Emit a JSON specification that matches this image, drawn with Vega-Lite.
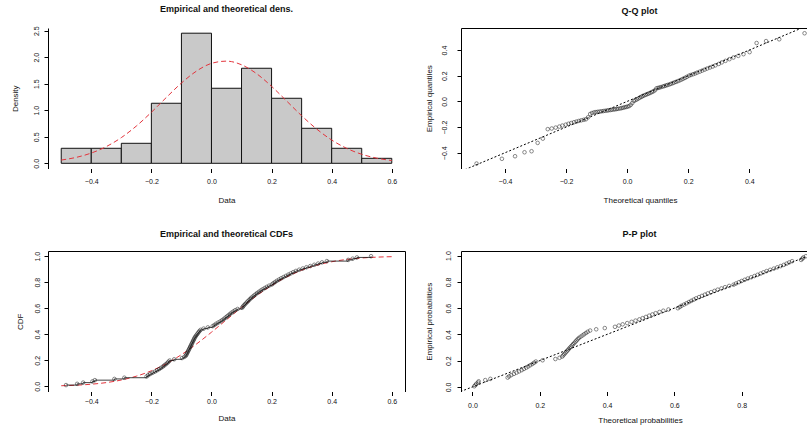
{
  "$schema": "https://vega.github.io/schema/vega-lite/v6.json",
  "padding": {"left": 11, "top": 4, "right": 0, "bottom": 0},
  "background": "white",
  "config": {
    "font": "Liberation Sans",
    "view": {"stroke": null},
    "axis": {"grid": false, "domainColor": "#000", "tickColor": "#000", "labelColor": "#111", "titleColor": "#111", "labelFontSize": 7, "titleFontSize": 8, "titleFontWeight": "normal", "tickSize": 4, "domainWidth": 1, "tickWidth": 1, "labelFont": "Liberation Sans", "titleFont": "Liberation Sans", "labelOverlap": false, "labelFlush": false},
    "axisX": {"domain": false},
    "axisY": {"labelAngle": -90, "labelAlign": "center", "labelBaseline": "bottom", "labelOverlap": false},
    "title": {"fontSize": 9, "fontWeight": "bold", "color": "#111", "offset": 12, "baseline": "bottom", "anchor": "middle", "font": "Liberation Sans"}
  },
  "datasets": {
    "hist": [
      {"lo": -0.5, "hi": -0.4, "d": 0.283}, {"lo": -0.4, "hi": -0.3, "d": 0.283}, {"lo": -0.3, "hi": -0.2, "d": 0.377},
      {"lo": -0.2, "hi": -0.1, "d": 1.132}, {"lo": -0.1, "hi": 0.0, "d": 2.453}, {"lo": 0.0, "hi": 0.1, "d": 1.415},
      {"lo": 0.1, "hi": 0.2, "d": 1.792}, {"lo": 0.2, "hi": 0.3, "d": 1.226}, {"lo": 0.3, "hi": 0.4, "d": 0.660},
      {"lo": 0.4, "hi": 0.5, "d": 0.283}, {"lo": 0.5, "hi": 0.6, "d": 0.094}
    ],
    "curve": [
      {"x": -0.5, "d": 0.0610, "F": 0.0043}, {"x": -0.45, "d": 0.1118, "F": 0.0085}, {"x": -0.4, "d": 0.1933, "F": 0.0160},
      {"x": -0.35, "d": 0.3151, "F": 0.0285}, {"x": -0.3, "d": 0.4845, "F": 0.0483}, {"x": -0.25, "d": 0.7027, "F": 0.0778},
      {"x": -0.2, "d": 0.9619, "F": 0.1192}, {"x": -0.15, "d": 1.2425, "F": 0.1744}, {"x": -0.1, "d": 1.5131, "F": 0.2432},
      {"x": -0.05, "d": 1.7383, "F": 0.3249}, {"x": 0.0, "d": 1.8842, "F": 0.4158}, {"x": 0.05, "d": 1.9264, "F": 0.5116},
      {"x": 0.1, "d": 1.8581, "F": 0.6066}, {"x": 0.15, "d": 1.6903, "F": 0.6957}, {"x": 0.2, "d": 1.4508, "F": 0.7745},
      {"x": 0.25, "d": 1.1748, "F": 0.8401}, {"x": 0.3, "d": 0.8971, "F": 0.8919}, {"x": 0.35, "d": 0.6464, "F": 0.9303},
      {"x": 0.4, "d": 0.4392, "F": 0.9573}, {"x": 0.45, "d": 0.2818, "F": 0.9751}, {"x": 0.5, "d": 0.1704, "F": 0.9862},
      {"x": 0.55, "d": 0.0972, "F": 0.9927}, {"x": 0.6, "d": 0.0523, "F": 0.9964}
    ],
    "diag": [{"v": -0.7}, {"v": 1.2}],
    "smp": [
      {"s": -0.484, "q": -0.493, "pe": 0.0094, "pp": 0.0047, "F": 0.0054},
      {"s": -0.447, "q": -0.410, "pe": 0.0189, "pp": 0.0142, "F": 0.0089},
      {"s": -0.427, "q": -0.367, "pe": 0.0283, "pp": 0.0236, "F": 0.0115},
      {"s": -0.396, "q": -0.336, "pe": 0.0377, "pp": 0.0330, "F": 0.0168},
      {"s": -0.388, "q": -0.313, "pe": 0.0472, "pp": 0.0425, "F": 0.0185},
      {"s": -0.323, "q": -0.293, "pe": 0.0566, "pp": 0.0519, "F": 0.0381},
      {"s": -0.290, "q": -0.276, "pe": 0.0660, "pp": 0.0613, "F": 0.0533},
      {"s": -0.216, "q": -0.260, "pe": 0.0755, "pp": 0.0708, "F": 0.1046},
      {"s": -0.211, "q": -0.247, "pe": 0.0849, "pp": 0.0802, "F": 0.1090},
      {"s": -0.204, "q": -0.234, "pe": 0.0943, "pp": 0.0896, "F": 0.1154},
      {"s": -0.196, "q": -0.222, "pe": 0.1038, "pp": 0.0991, "F": 0.1232},
      {"s": -0.188, "q": -0.212, "pe": 0.1132, "pp": 0.1085, "F": 0.1311},
      {"s": -0.181, "q": -0.201, "pe": 0.1226, "pp": 0.1179, "F": 0.1385},
      {"s": -0.174, "q": -0.192, "pe": 0.1321, "pp": 0.1274, "F": 0.1462},
      {"s": -0.168, "q": -0.183, "pe": 0.1415, "pp": 0.1368, "F": 0.1529},
      {"s": -0.162, "q": -0.174, "pe": 0.1509, "pp": 0.1462, "F": 0.1599},
      {"s": -0.157, "q": -0.166, "pe": 0.1604, "pp": 0.1557, "F": 0.1658},
      {"s": -0.152, "q": -0.158, "pe": 0.1698, "pp": 0.1651, "F": 0.1718},
      {"s": -0.147, "q": -0.150, "pe": 0.1792, "pp": 0.1745, "F": 0.1780},
      {"s": -0.143, "q": -0.142, "pe": 0.1887, "pp": 0.1840, "F": 0.1833},
      {"s": -0.139, "q": -0.135, "pe": 0.1981, "pp": 0.1934, "F": 0.1884},
      {"s": -0.124, "q": -0.128, "pe": 0.2075, "pp": 0.2028, "F": 0.2084},
      {"s": -0.098, "q": -0.121, "pe": 0.2170, "pp": 0.2123, "F": 0.2464},
      {"s": -0.090, "q": -0.115, "pe": 0.2264, "pp": 0.2217, "F": 0.2588},
      {"s": -0.085, "q": -0.108, "pe": 0.2358, "pp": 0.2311, "F": 0.2666},
      {"s": -0.083, "q": -0.102, "pe": 0.2453, "pp": 0.2406, "F": 0.2697},
      {"s": -0.081, "q": -0.096, "pe": 0.2547, "pp": 0.2500, "F": 0.2729},
      {"s": -0.079, "q": -0.090, "pe": 0.2642, "pp": 0.2594, "F": 0.2762},
      {"s": -0.077, "q": -0.084, "pe": 0.2736, "pp": 0.2689, "F": 0.2793},
      {"s": -0.075, "q": -0.078, "pe": 0.2830, "pp": 0.2783, "F": 0.2827},
      {"s": -0.073, "q": -0.072, "pe": 0.2925, "pp": 0.2877, "F": 0.2860},
      {"s": -0.071, "q": -0.066, "pe": 0.3019, "pp": 0.2972, "F": 0.2891},
      {"s": -0.069, "q": -0.061, "pe": 0.3113, "pp": 0.3066, "F": 0.2925},
      {"s": -0.067, "q": -0.055, "pe": 0.3208, "pp": 0.3160, "F": 0.2960},
      {"s": -0.065, "q": -0.050, "pe": 0.3302, "pp": 0.3255, "F": 0.2991},
      {"s": -0.063, "q": -0.044, "pe": 0.3396, "pp": 0.3349, "F": 0.3026},
      {"s": -0.061, "q": -0.039, "pe": 0.3491, "pp": 0.3443, "F": 0.3061},
      {"s": -0.059, "q": -0.034, "pe": 0.3585, "pp": 0.3538, "F": 0.3093},
      {"s": -0.057, "q": -0.029, "pe": 0.3679, "pp": 0.3632, "F": 0.3128},
      {"s": -0.055, "q": -0.023, "pe": 0.3774, "pp": 0.3726, "F": 0.3163},
      {"s": -0.052, "q": -0.018, "pe": 0.3868, "pp": 0.3821, "F": 0.3213},
      {"s": -0.049, "q": -0.013, "pe": 0.3962, "pp": 0.3915, "F": 0.3267},
      {"s": -0.046, "q": -0.008, "pe": 0.4057, "pp": 0.4009, "F": 0.3318},
      {"s": -0.043, "q": -0.003, "pe": 0.4151, "pp": 0.4104, "F": 0.3372},
      {"s": -0.040, "q": 0.002, "pe": 0.4245, "pp": 0.4198, "F": 0.3424},
      {"s": -0.036, "q": 0.007, "pe": 0.4340, "pp": 0.4292, "F": 0.3497},
      {"s": -0.026, "q": 0.012, "pe": 0.4434, "pp": 0.4387, "F": 0.3677},
      {"s": -0.012, "q": 0.017, "pe": 0.4528, "pp": 0.4481, "F": 0.3932},
      {"s": 0.004, "q": 0.022, "pe": 0.4623, "pp": 0.4575, "F": 0.4235},
      {"s": 0.010, "q": 0.027, "pe": 0.4717, "pp": 0.4670, "F": 0.4349},
      {"s": 0.016, "q": 0.032, "pe": 0.4811, "pp": 0.4764, "F": 0.4463},
      {"s": 0.023, "q": 0.037, "pe": 0.4906, "pp": 0.4858, "F": 0.4598},
      {"s": 0.030, "q": 0.042, "pe": 0.5000, "pp": 0.4953, "F": 0.4729},
      {"s": 0.036, "q": 0.047, "pe": 0.5094, "pp": 0.5047, "F": 0.4845},
      {"s": 0.042, "q": 0.051, "pe": 0.5189, "pp": 0.5142, "F": 0.4960},
      {"s": 0.047, "q": 0.056, "pe": 0.5283, "pp": 0.5236, "F": 0.5056},
      {"s": 0.052, "q": 0.061, "pe": 0.5377, "pp": 0.5330, "F": 0.5155},
      {"s": 0.057, "q": 0.066, "pe": 0.5472, "pp": 0.5425, "F": 0.5251},
      {"s": 0.062, "q": 0.071, "pe": 0.5566, "pp": 0.5519, "F": 0.5347},
      {"s": 0.067, "q": 0.076, "pe": 0.5660, "pp": 0.5613, "F": 0.5442},
      {"s": 0.073, "q": 0.081, "pe": 0.5755, "pp": 0.5708, "F": 0.5557},
      {"s": 0.079, "q": 0.086, "pe": 0.5849, "pp": 0.5802, "F": 0.5671},
      {"s": 0.087, "q": 0.091, "pe": 0.5943, "pp": 0.5896, "F": 0.5824},
      {"s": 0.102, "q": 0.096, "pe": 0.6038, "pp": 0.5991, "F": 0.6103},
      {"s": 0.105, "q": 0.101, "pe": 0.6132, "pp": 0.6085, "F": 0.6160},
      {"s": 0.108, "q": 0.106, "pe": 0.6226, "pp": 0.6179, "F": 0.6213},
      {"s": 0.112, "q": 0.111, "pe": 0.6321, "pp": 0.6274, "F": 0.6289},
      {"s": 0.116, "q": 0.117, "pe": 0.6415, "pp": 0.6368, "F": 0.6361},
      {"s": 0.120, "q": 0.122, "pe": 0.6509, "pp": 0.6462, "F": 0.6432},
      {"s": 0.124, "q": 0.127, "pe": 0.6604, "pp": 0.6557, "F": 0.6503},
      {"s": 0.128, "q": 0.132, "pe": 0.6698, "pp": 0.6651, "F": 0.6576},
      {"s": 0.132, "q": 0.138, "pe": 0.6792, "pp": 0.6745, "F": 0.6646},
      {"s": 0.137, "q": 0.143, "pe": 0.6887, "pp": 0.6840, "F": 0.6733},
      {"s": 0.142, "q": 0.149, "pe": 0.6981, "pp": 0.6934, "F": 0.6819},
      {"s": 0.147, "q": 0.154, "pe": 0.7075, "pp": 0.7028, "F": 0.6907},
      {"s": 0.152, "q": 0.160, "pe": 0.7170, "pp": 0.7123, "F": 0.6992},
      {"s": 0.158, "q": 0.166, "pe": 0.7264, "pp": 0.7217, "F": 0.7092},
      {"s": 0.164, "q": 0.172, "pe": 0.7358, "pp": 0.7311, "F": 0.7190},
      {"s": 0.170, "q": 0.178, "pe": 0.7453, "pp": 0.7406, "F": 0.7287},
      {"s": 0.177, "q": 0.184, "pe": 0.7547, "pp": 0.7500, "F": 0.7399},
      {"s": 0.184, "q": 0.190, "pe": 0.7642, "pp": 0.7594, "F": 0.7505},
      {"s": 0.192, "q": 0.196, "pe": 0.7736, "pp": 0.7689, "F": 0.7627},
      {"s": 0.201, "q": 0.203, "pe": 0.7830, "pp": 0.7783, "F": 0.7758},
      {"s": 0.206, "q": 0.209, "pe": 0.7925, "pp": 0.7877, "F": 0.7832},
      {"s": 0.212, "q": 0.216, "pe": 0.8019, "pp": 0.7972, "F": 0.7916},
      {"s": 0.218, "q": 0.223, "pe": 0.8113, "pp": 0.8066, "F": 0.7998},
      {"s": 0.225, "q": 0.230, "pe": 0.8208, "pp": 0.8160, "F": 0.8090},
      {"s": 0.232, "q": 0.238, "pe": 0.8302, "pp": 0.8255, "F": 0.8181},
      {"s": 0.240, "q": 0.246, "pe": 0.8396, "pp": 0.8349, "F": 0.8282},
      {"s": 0.248, "q": 0.254, "pe": 0.8491, "pp": 0.8443, "F": 0.8379},
      {"s": 0.256, "q": 0.262, "pe": 0.8585, "pp": 0.8538, "F": 0.8471},
      {"s": 0.264, "q": 0.271, "pe": 0.8679, "pp": 0.8632, "F": 0.8561},
      {"s": 0.272, "q": 0.280, "pe": 0.8774, "pp": 0.8726, "F": 0.8646},
      {"s": 0.281, "q": 0.289, "pe": 0.8868, "pp": 0.8821, "F": 0.8739},
      {"s": 0.292, "q": 0.300, "pe": 0.8962, "pp": 0.8915, "F": 0.8846},
      {"s": 0.304, "q": 0.310, "pe": 0.9057, "pp": 0.9009, "F": 0.8954},
      {"s": 0.316, "q": 0.322, "pe": 0.9151, "pp": 0.9104, "F": 0.9056},
      {"s": 0.329, "q": 0.335, "pe": 0.9245, "pp": 0.9198, "F": 0.9157},
      {"s": 0.342, "q": 0.348, "pe": 0.9340, "pp": 0.9292, "F": 0.9251},
      {"s": 0.355, "q": 0.364, "pe": 0.9434, "pp": 0.9387, "F": 0.9335},
      {"s": 0.368, "q": 0.381, "pe": 0.9528, "pp": 0.9481, "F": 0.9412},
      {"s": 0.384, "q": 0.401, "pe": 0.9623, "pp": 0.9575, "F": 0.9498},
      {"s": 0.455, "q": 0.424, "pe": 0.9717, "pp": 0.9670, "F": 0.9765},
      {"s": 0.470, "q": 0.455, "pe": 0.9811, "pp": 0.9764, "F": 0.9802},
      {"s": 0.484, "q": 0.498, "pe": 0.9906, "pp": 0.9858, "F": 0.9832},
      {"s": 0.531, "q": 0.581, "pe": 1.0, "pp": 0.9953, "F": 0.9907}
    ]
  },
  "columns": 2,
  "spacing": {"row": 82, "column": 56},
  "bounds": "flush",
  "concat": [
    {
      "width": 357, "height": 140.5,
      "title": {"text": "Empirical and theoretical dens."},
      "layer": [
        {
          "data": {"name": "hist"},
          "mark": {"type": "bar", "fill": "#c9c9c9", "stroke": "#111", "strokeWidth": 1},
          "encoding": {
            "x": {"field": "lo", "type": "quantitative", "scale": {"domain": [-0.544, 0.644], "nice": false, "zero": false},
                  "axis": {"values": [-0.4, -0.2, 0, 0.2, 0.4, 0.6], "format": ".1f", "title": "Data", "labelPadding": 5, "titlePadding": 12, "labelOverlap": false}},
            "x2": {"field": "hi"},
            "y": {"field": "d", "type": "quantitative", "scale": {"domain": [-0.098, 2.551], "nice": false, "zero": false},
                  "axis": {"values": [0, 0.5, 1, 1.5, 2, 2.5], "format": ".1f", "title": "Density", "labelPadding": 4.5, "titlePadding": 13, "labelOverlap": false}},
            "y2": {"datum": 0}
          }
        },
        {
          "data": {"name": "curve"},
          "mark": {"type": "line", "color": "#e3343c", "strokeDash": [5, 3], "strokeWidth": 1, "interpolate": "monotone"},
          "encoding": {
            "x": {"field": "x", "type": "quantitative", "scale": {"domain": [-0.544, 0.644], "nice": false, "zero": false},
                  "axis": {"values": [-0.4, -0.2, 0, 0.2, 0.4, 0.6], "format": ".1f", "title": "Data", "labelPadding": 5, "titlePadding": 12, "labelOverlap": false}},
            "y": {"field": "d", "type": "quantitative", "scale": {"domain": [-0.098, 2.551], "nice": false, "zero": false},
                  "axis": {"values": [0, 0.5, 1, 1.5, 2, 2.5], "format": ".1f", "title": "Density", "labelPadding": 4.5, "titlePadding": 13, "labelOverlap": false}}
          }
        }
      ]
    },
    {
      "width": 346, "height": 140.5,
      "title": {"text": "Q-Q plot", "dx": 5.5},
      "resolve": {"axis": {"x": "independent"}},
      "layer": [
        {
          "data": {"name": "diag"},
          "mark": {"type": "line", "color": "#000", "strokeDash": [2, 2], "strokeWidth": 1, "clip": true},
          "encoding": {
            "x": {"field": "v", "type": "quantitative", "scale": {"domain": [-0.544, 0.589], "nice": false, "zero": false},
                  "axis": {"orient": "top", "labels": false, "ticks": false, "domain": true, "title": null}},
            "y": {"field": "v", "type": "quantitative", "scale": {"domain": [-0.5225, 0.572], "nice": false, "zero": false},
                  "axis": {"values": [-0.4, -0.2, 0, 0.2, 0.4], "format": ".1f", "title": "Empirical quantiles", "labelPadding": 10, "titlePadding": 7, "labelOverlap": false}}
          }
        },
        {
          "data": {"name": "smp"},
          "mark": {"type": "point", "shape": "circle", "filled": false, "size": 13, "strokeWidth": 0.7, "color": "#111"},
          "encoding": {
            "x": {"field": "q", "type": "quantitative", "scale": {"domain": [-0.544, 0.589], "nice": false, "zero": false},
                  "axis": {"values": [-0.4, -0.2, 0, 0.2, 0.4], "format": ".1f", "title": "Theoretical quantiles", "labelPadding": 5, "titlePadding": 12, "titleX": 179, "labelOverlap": false}},
            "y": {"field": "s", "type": "quantitative", "scale": {"domain": [-0.5225, 0.572], "nice": false, "zero": false},
                  "axis": {"values": [-0.4, -0.2, 0, 0.2, 0.4], "format": ".1f", "title": "Empirical quantiles", "labelPadding": 10, "titlePadding": 7, "labelOverlap": false}}
          }
        }
      ]
    },
    {
      "width": 357, "height": 140.5,
      "title": {"text": "Empirical and theoretical CDFs"},
      "resolve": {"axis": {"x": "independent", "y": "independent"}},
      "layer": [
        {
          "data": {"name": "curve"},
          "mark": {"type": "line", "color": "#e3343c", "strokeDash": [5, 3], "strokeWidth": 1, "interpolate": "monotone"},
          "encoding": {
            "x": {"field": "x", "type": "quantitative", "scale": {"domain": [-0.544, 0.644], "nice": false, "zero": false},
                  "axis": {"orient": "top", "labels": false, "ticks": false, "domain": true, "title": null}},
            "y": {"field": "F", "type": "quantitative", "scale": {"domain": [-0.04, 1.04], "nice": false, "zero": false},
                  "axis": {"orient": "right", "labels": false, "ticks": false, "domain": true, "title": null}}
          }
        },
        {
          "data": {"name": "smp"},
          "mark": {"type": "line", "color": "#111", "strokeWidth": 0.8, "interpolate": "step-after"},
          "encoding": {
            "x": {"field": "s", "type": "quantitative", "scale": {"domain": [-0.544, 0.644], "nice": false, "zero": false},
                  "axis": {"values": [-0.4, -0.2, 0, 0.2, 0.4, 0.6], "format": ".1f", "title": "Data", "labelPadding": 2, "titlePadding": 10, "labelOverlap": false}},
            "y": {"field": "pe", "type": "quantitative", "scale": {"domain": [-0.04, 1.04], "nice": false, "zero": false},
                  "axis": {"values": [0, 0.2, 0.4, 0.6, 0.8, 1], "format": ".1f", "title": "CDF", "labelPadding": 4, "titlePadding": 9, "labelOverlap": false}}
          }
        },
        {
          "data": {"name": "smp"},
          "mark": {"type": "point", "shape": "circle", "filled": false, "size": 13, "strokeWidth": 0.7, "color": "#111"},
          "encoding": {
            "x": {"field": "s", "type": "quantitative", "scale": {"domain": [-0.544, 0.644], "nice": false, "zero": false}, "axis": null},
            "y": {"field": "pe", "type": "quantitative", "scale": {"domain": [-0.04, 1.04], "nice": false, "zero": false}, "axis": null}
          }
        }
      ]
    },
    {
      "width": 346, "height": 140.5,
      "title": {"text": "P-P plot", "dx": 5.5},
      "resolve": {"axis": {"x": "independent"}},
      "layer": [
        {
          "data": {"name": "diag"},
          "mark": {"type": "line", "color": "#000", "strokeDash": [2, 2], "strokeWidth": 1, "clip": true},
          "encoding": {
            "x": {"field": "v", "type": "quantitative", "scale": {"domain": [-0.034, 0.994], "nice": false, "zero": false},
                  "axis": {"orient": "top", "labels": false, "ticks": false, "domain": true, "title": null}},
            "y": {"field": "v", "type": "quantitative", "scale": {"domain": [-0.035, 1.035], "nice": false, "zero": false},
                  "axis": {"values": [0, 0.2, 0.4, 0.6, 0.8, 1], "format": ".1f", "title": "Empirical probabilities", "labelPadding": 5.5, "titlePadding": 11, "labelOverlap": false}}
          }
        },
        {
          "data": {"name": "smp"},
          "mark": {"type": "point", "shape": "circle", "filled": false, "size": 13, "strokeWidth": 0.7, "color": "#111"},
          "encoding": {
            "x": {"field": "F", "type": "quantitative", "scale": {"domain": [-0.034, 0.994], "nice": false, "zero": false},
                  "axis": {"values": [0, 0.2, 0.4, 0.6, 0.8], "format": ".1f", "title": "Theoretical probabilities", "labelPadding": 6, "titlePadding": 8, "titleX": 179, "labelOverlap": false}},
            "y": {"field": "pp", "type": "quantitative", "scale": {"domain": [-0.035, 1.035], "nice": false, "zero": false},
                  "axis": {"values": [0, 0.2, 0.4, 0.6, 0.8, 1], "format": ".1f", "title": "Empirical probabilities", "labelPadding": 5.5, "titlePadding": 11, "labelOverlap": false}}
          }
        }
      ]
    }
  ]
}
